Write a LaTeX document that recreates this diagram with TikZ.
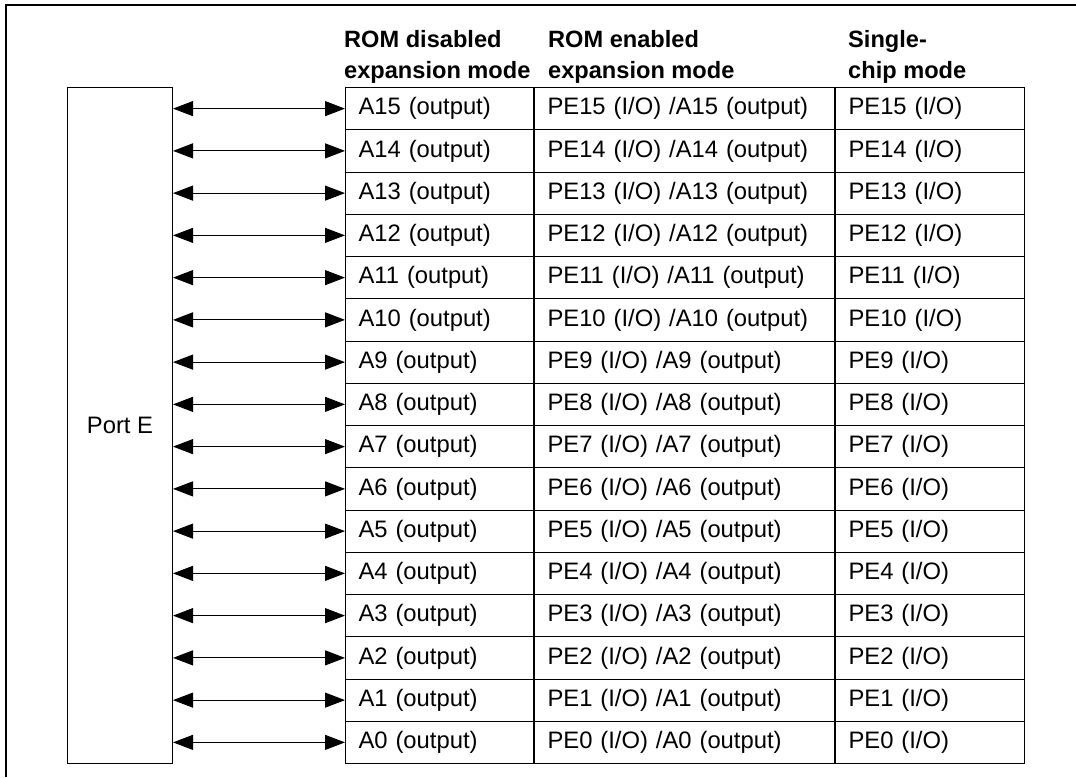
\documentclass[tikz,border=0pt]{standalone}
\usepackage{fontspec}
\setmainfont{Liberation Sans}
\usetikzlibrary{arrows.meta,positioning}
\tikzset{
  biarrow/.style={{Triangle[length=20pt,width=15pt]}-{Triangle[length=20pt,width=15pt]},line width=1pt},
  frame/.style={line width=2pt},
  cell/.style={draw,line width=1pt,minimum height=42.25pt,inner xsep=13pt,inner ysep=0pt,
               align=left,font=\fontsize{23.8}{28}\selectfont},
  cellA/.style={cell,text width=162pt,anchor=north west},
  cellB/.style={cell,text width=274pt},
  cellC/.style={cell,text width=163pt},
  portbox/.style={draw,line width=1pt,minimum width=105pt,minimum height=676pt,
                  anchor=north west,font=\fontsize{23.8}{28}\selectfont},
  head/.style={anchor=north west,inner sep=0pt,align=left,
               font=\fontsize{23.6}{31}\selectfont\bfseries},
}
\begin{document}
\begin{tikzpicture}[x=1pt,y=-1pt]
  \useasboundingbox (0,0) rectangle (1076,777);
  % frame
  \draw[frame] (6,777) -- (6,5) -- (1076,5);

  % column heads
  \node[head] (hA) at (344,30) {ROM disabled\\expansion mode};
  \node[head] (hB) at (548,30) {ROM enabled\\expansion mode};
  \node[head] (hC) at (848,30) {Single-\\chip mode};

  % port
  \node[portbox] (porte) at (67,87) {Port E};

  % pins
  \foreach \n [count=\r from 0] in {15,14,...,0}{
    \node[cellA] (a\n) at (345,{87+42.25*\r}) {A\n\ (output)};
    \node[cellB,right=0pt of a\n] (b\n) {PE\n\ (I/O) /A\n\ (output)};
    \node[cellC,right=0pt of b\n] (c\n) {PE\n\ (I/O)};
    \draw[biarrow] (porte.east |- a\n.west) -- (a\n.west);
  }
\end{tikzpicture}
\end{document}
